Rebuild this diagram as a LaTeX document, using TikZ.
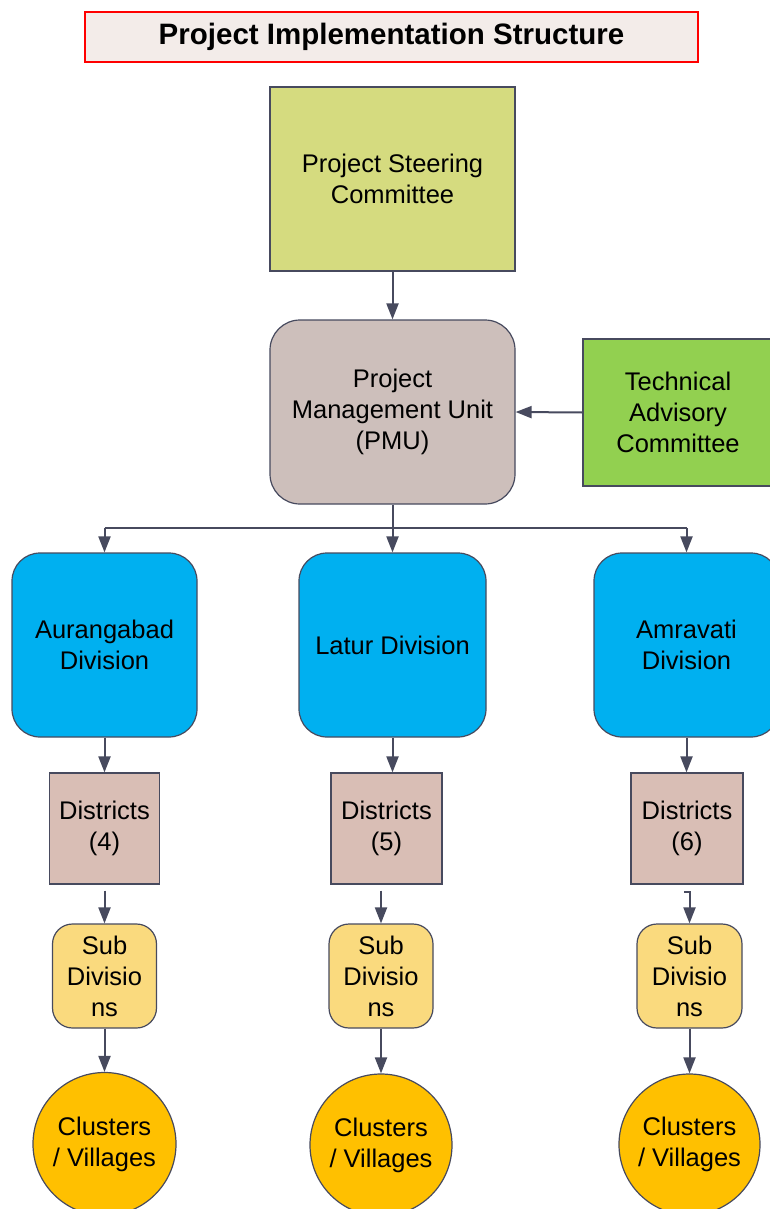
\documentclass[tikz,border=0pt]{standalone}
\usepackage{fontspec}
\setmainfont{Liberation Sans}
\usetikzlibrary{arrows.meta,calc}
\definecolor{ln}{HTML}{474A5E}
\definecolor{titlefill}{HTML}{F3ECE9}
\definecolor{pscfill}{HTML}{D5DB7F}
\definecolor{pmufill}{HTML}{CDBFBB}
\definecolor{tacfill}{HTML}{92D050}
\definecolor{divfill}{HTML}{00B0F0}
\definecolor{distfill}{HTML}{D9BEB5}
\definecolor{subfill}{HTML}{FADA7E}
\definecolor{clufill}{HTML}{FFC000}
\begin{document}
\begin{tikzpicture}[x=1pt,y=-1pt,
  box/.style={draw=ln,line width=1.2pt,inner sep=0pt,align=center,
    font=\fontsize{25.5}{31}\selectfont},
  arr/.style={draw=ln,line width=2pt,-{Triangle[length=16pt,width=12pt]}},
  ln/.style={draw=ln,line width=2pt}]
\useasboundingbox (0,0) rectangle (770,1209);
% title
\node[draw=red,line width=2pt,fill=titlefill,minimum width=613pt,minimum height=50pt,inner sep=0pt,
  font=\bfseries\fontsize{29.5}{34}\selectfont] (title) at (391.5,37) {Project Implementation Structure\hspace{12pt}};
% top
\node[box,fill=pscfill,minimum width=245pt,minimum height=184pt] (psc) at (392.5,179) {Project Steering\\Committee};
\node[box,fill=pmufill,rounded corners=30pt,minimum width=245pt,minimum height=184pt] (pmu) at (392.5,412) {Project\\Management Unit\\(PMU)};
\node[box,fill=tacfill,minimum width=190pt,minimum height=147pt] (tac) at (678,412.5) {Technical\\Advisory\\Committee};
% divisions
\node[box,fill=divfill,rounded corners=28pt,minimum width=185pt,minimum height=184pt] (v1) at (104.5,645) {Aurangabad\\Division};
\node[box,fill=divfill,rounded corners=28pt,minimum width=187pt,minimum height=184pt] (v2) at (392.5,645) {Latur Division};
\node[box,fill=divfill,rounded corners=28pt,minimum width=185pt,minimum height=184pt] (v3) at (686.5,645) {Amravati\\Division};
% districts
\node[box,fill=distfill,minimum width=110pt,minimum height=111pt] (d1) at (104.5,828.5) {Districts\\(4)};
\node[box,fill=distfill,minimum width=111pt,minimum height=111pt] (d2) at (386.5,828.5) {Districts\\(5)};
\node[box,fill=distfill,minimum width=112pt,minimum height=111pt] (d3) at (687,828.5) {Districts\\(6)};
% sub divisions
\node[box,fill=subfill,rounded corners=20pt,minimum width=104pt,minimum height=104pt] (s1) at (104.5,976) {Sub\\Divisio\\ns};
\node[box,fill=subfill,rounded corners=20pt,minimum width=104pt,minimum height=104pt] (s2) at (381,976) {Sub\\Divisio\\ns};
\node[box,fill=subfill,rounded corners=20pt,minimum width=105pt,minimum height=104pt] (s3) at (689.5,976) {Sub\\Divisio\\ns};
% clusters
\node[box,circle,fill=clufill,minimum size=143pt] (c1) at (104.5,1144) {Clusters\\/ Villages};
\node[box,circle,fill=clufill,minimum size=142pt] (c2) at (381,1145) {Clusters\\/ Villages};
\node[box,circle,fill=clufill,minimum size=141pt] (c3) at (689.5,1144.5) {Clusters\\/ Villages};
% connectors
\draw[arr] (psc.south) -- (pmu.north);
\draw[arr] (tac.west) -- (pmu.east);
\coordinate (bus) at (392.5,528);
\draw[ln] (pmu.south) -- (bus);
\draw[ln] (v1.north |- bus) -- (v3.north |- bus);
\draw[arr] (v1.north |- bus) -- (v1.north);
\draw[arr] (bus) -- (v2.north);
\draw[arr] (v3.north |- bus) -- (v3.north);
\draw[arr] (v1.south) -- (v1.south |- d1.north);
\draw[arr] (v2.south) -- (v2.south |- d2.north);
\draw[arr] (v3.south) -- (v3.south |- d3.north);
\coordinate (o1) at ($(d1.south)+(0,6)$);
\coordinate (o2) at ($(d2.south)+(0,6)$);
\coordinate (o3) at ($(d3.south)+(-3,7)$);
\draw[arr] (s1.north |- o1) -- (s1.north);
\draw[arr] (s2.north |- o2) -- (s2.north);
\draw[arr] (o3) -| (s3.north);
\draw[arr] (s1.south) -- (c1.north);
\draw[arr] (s2.south) -- (c2.north);
\draw[arr] (s3.south) -- (c3.north);
\end{tikzpicture}
\end{document}
